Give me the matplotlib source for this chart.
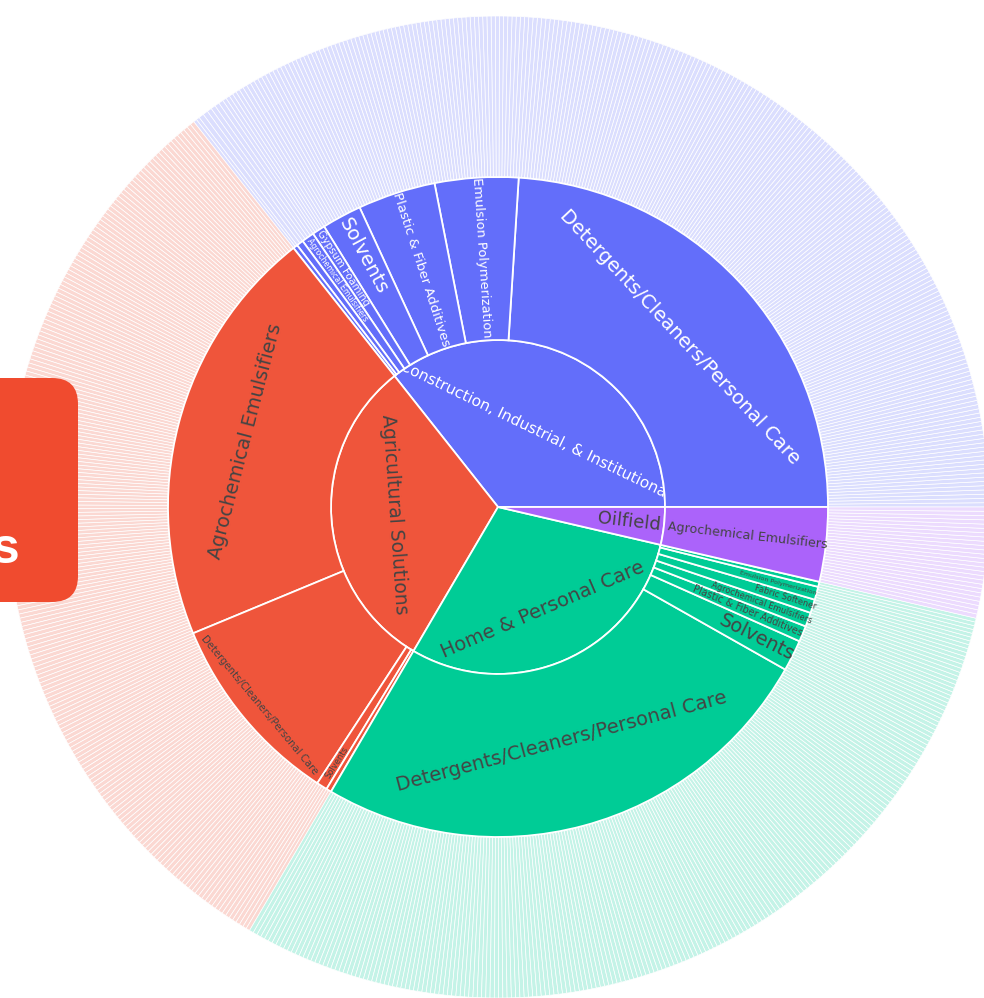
import matplotlib.pyplot as plt
import numpy as np
from matplotlib.patches import Wedge, Circle, FancyBboxPatch, PathPatch
from matplotlib.collections import PatchCollection
from matplotlib.colors import to_rgb
from matplotlib.textpath import TextPath
from matplotlib.font_manager import FontProperties
from matplotlib.transforms import Affine2D

# top level sectors (counter-clockwise from 3 o'clock, largest first)
sectors = ['Construction, Industrial, & Institutional', 'Agricultural Solutions',
           'Home & Personal Care', 'Oilfield']
sector_colors = ['#636EFA', '#EF553B', '#00CC96', '#AB63FA']

# second level: applications inside each sector
cii_labels = ['Detergents/Cleaners/Personal Care', 'Emulsion Polymerization',
              'Plastic & Fiber Additives', 'Solvents', 'Gypsum Foaming',
              'Agrochemical Emulsifiers', 'Other', 'Other']
cii_values = [86.4, 14.7, 13.7, 7.0, 2.3, 2.2, 1.2, 0.8]
cii_leaves = [172, 30, 28, 14, 5, 4, 2, 2]

agri_labels = ['Agrochemical Emulsifiers', 'Detergents/Cleaners/Personal Care',
               'Solvents', 'Other']
agri_values = [74.2, 34.3, 1.9, 0.9]
agri_leaves = [150, 70, 4, 2]

home_labels = ['Detergents/Cleaners/Personal Care', 'Solvents',
               'Plastic & Fiber Additives', 'Agrochemical Emulsifiers',
               'Fabric Softener', 'Emulsion Polymerization', 'Other']
home_values = [90.9, 5.5, 2.8, 2.5, 2.4, 2.3, 0.9]
home_leaves = [182, 11, 6, 5, 5, 5, 2]

oil_labels = ['Agrochemical Emulsifiers']
oil_values = [13.1]
oil_leaves = [26]

children = [(cii_labels, cii_values, cii_leaves),
            (agri_labels, agri_values, agri_leaves),
            (home_labels, home_values, home_leaves),
            (oil_labels, oil_values, oil_leaves)]

# label styling: (orientation, radius px, font size, colour)
sector_style = {
    0: ('tangential', 86, 11.1, 'white'),
    1: ('tangential', 104, 13.5, '#444444'),
    2: ('tangential', 112, 14, '#444444'),
    3: ('radial', 132, 13, '#444444'),
}
child_style = {
    (0, 0): ('tangential', 249, 14, 'white'),
    (0, 1): ('radial', 250, 9.4, 'white'),
    (0, 2): ('radial', 250, 9.6, 'white'),
    (0, 3): ('radial', 285, 14, 'white'),
    (0, 4): ('radial', 284, 7.3, 'white'),
    (0, 5): ('radial', 278, 5.7, 'white'),
    (1, 0): ('tangential', 261, 13.9, '#444444'),
    (1, 1): ('tangential', 310, 7.3, '#444444'),
    (1, 2): ('radial', 302, 6, '#444444'),
    (2, 0): ('tangential', 243, 14, '#444444'),
    (2, 1): ('radial', 290, 13.8, '#444444'),
    (2, 2): ('radial', 270, 7, '#444444'),
    (2, 3): ('radial', 280, 6, '#444444'),
    (2, 4): ('radial', 301, 6.1, '#444444'),
    (2, 5): ('radial', 290, 4.6, '#444444'),
    (3, 0): ('radial', 251, 9.1, '#444444'),
}

W, H = 984, 998
cx, cy = 498, H - 507
r1, r2, r3 = 167, 330, 491

fig = plt.figure(figsize=(W / 100, H / 100), dpi=100)
ax = fig.add_axes([0, 0, 1, 1])
ax.set_xlim(0, W)
ax.set_ylim(0, H)
ax.axis('off')


def label_rotation(mid, orient):
    rot = mid - 90 if orient == 'tangential' else mid
    rot = (rot + 180) % 360 - 180
    if rot > 90:
        rot -= 180
    elif rot < -90:
        rot += 180
    return rot


def put_label(text, mid, r, orient, size, color, clip=None):
    rot = label_rotation(mid, orient)
    t = np.deg2rad(mid)
    x, y = cx + r * np.cos(t), cy + r * np.sin(t)
    if clip is None:
        ax.text(x, y, text, rotation=rot, rotation_mode='anchor', ha='center',
                va='center', fontsize=size, color=color, family='DejaVu Sans',
                zorder=5)
        return
    # text drawn as a path so that it can be clipped by the inner circle
    tp = TextPath((0, 0), text, size=size * 100 / 72,
                  prop=FontProperties(family='DejaVu Sans'))
    ext = tp.get_extents()
    tr = (Affine2D().translate(-(ext.x0 + ext.x1) / 2, -(ext.y0 + ext.y1) / 2)
          .rotate_deg(rot).translate(x, y))
    patch = PathPatch(tr.transform_path(tp), facecolor=color, edgecolor='none',
                      zorder=5)
    ax.add_patch(patch)
    patch.set_clip_path(clip)


total = sum(sum(v) for _, v, _ in children)
scale = 360.0 / total

start = 0.0
for i, (labels, values, leaves) in enumerate(children):
    col = sector_colors[i]
    span = sum(values) * scale
    ax.add_patch(Wedge((cx, cy), r1, start, start + span, facecolor=col,
                       edgecolor='white', linewidth=1.3, zorder=2))
    orient, rr, fs, fc = sector_style[i]
    clip = None
    if i == 0:
        clip = Circle((cx, cy), r1 - 1, transform=ax.transData)
    put_label(sectors[i], start + span / 2, rr, orient, fs, fc, clip)

    pale = np.array(to_rgb(col)) * 0.23 + 0.77
    a = start
    for j, (lab, val, n) in enumerate(zip(labels, values, leaves)):
        w = val * scale
        ax.add_patch(Wedge((cx, cy), r2, a, a + w, width=r2 - r1,
                           facecolor=col, edgecolor='white', linewidth=1.3,
                           zorder=2))
        # outer ring of leaves
        edges = np.linspace(a, a + w, n + 1)
        leaf_patches = [Wedge((cx, cy), r3, edges[k], edges[k + 1], width=r3 - r2)
                        for k in range(n)]
        ax.add_collection(PatchCollection(leaf_patches, facecolor=pale,
                                          edgecolor='white', linewidth=0.5,
                                          zorder=1))
        if (i, j) in child_style:
            orient, rr, fs, fc = child_style[(i, j)]
            put_label(lab, a + w / 2, rr, orient, fs, fc)
        a += w
    start += span

# overlay box partly covering the chart on the left
ax.add_patch(FancyBboxPatch((-60, H - 602), 138, 224,
                            boxstyle='round,pad=0,rounding_size=26',
                            facecolor='#F04B2F', edgecolor='none', zorder=8))
ax.text(19, H - 563, 's', ha='right', va='baseline', fontsize=36,
        fontweight='bold', color='white', family='Liberation Sans', zorder=9)

fig.savefig('out.png', dpi=100)
